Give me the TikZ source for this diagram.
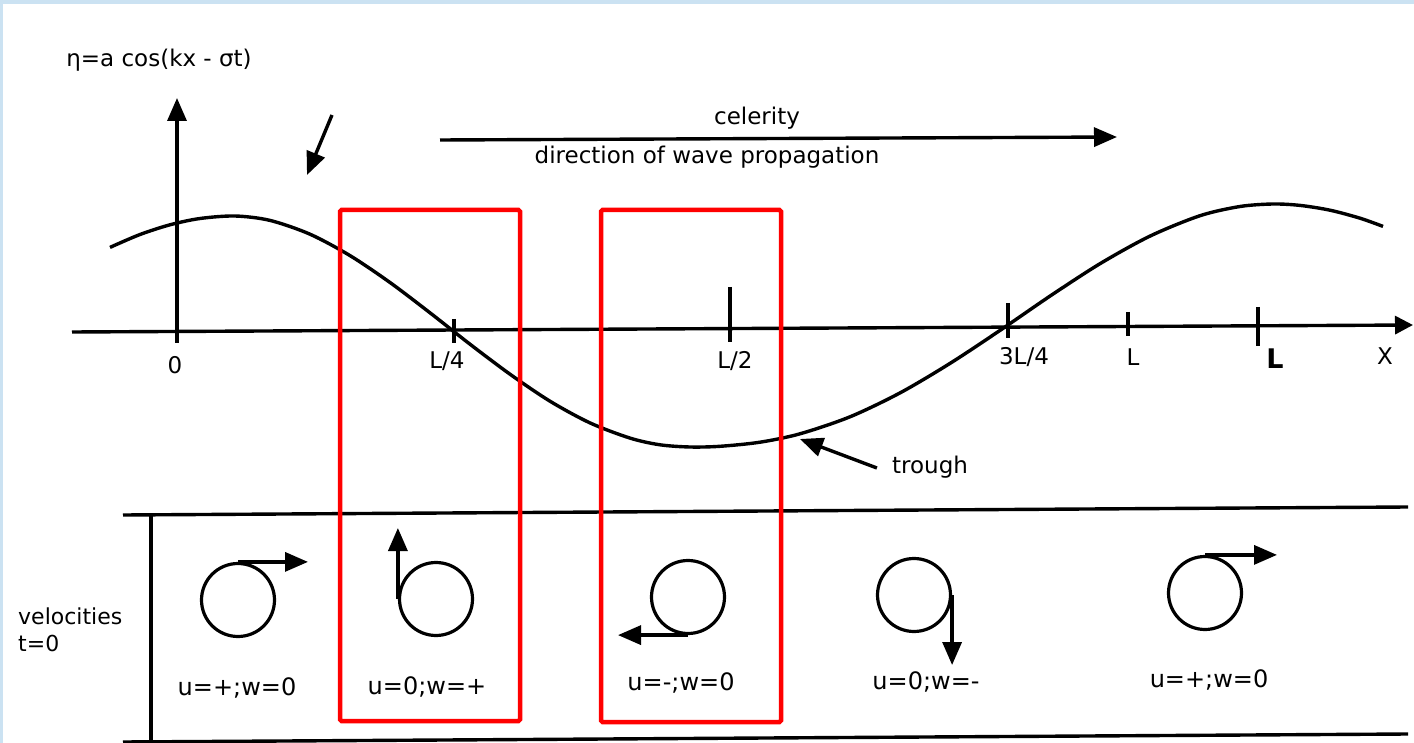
\documentclass[tikz,border=0pt]{standalone}
\usepackage{fontspec}
\setmainfont{DejaVu Sans}
\usetikzlibrary{arrows.meta,calc}
\definecolor{frameblue}{RGB}{203,226,242}
\begin{document}
\begin{tikzpicture}[x=1pt,y=-1pt,
  line/.style={line width=3.4pt},
  tip/.style={-{Triangle[length=23pt,width=19pt]}},
  axtip/.style={-{Triangle[length=18pt,width=18pt]}},
  lbl/.style={font=\fontsize{23}{27}\selectfont, inner sep=0pt},
  orbit/.style={circle, draw, line width=3.2pt, minimum size=73pt, inner sep=0pt},
  redbox/.style={draw=red, line width=4.5pt, rounded corners=1.5pt},
]
\useasboundingbox (0,0) rectangle (1414,743);
\fill[white] (0,0) rectangle (1414,743);
\fill[frameblue] (0,0) rectangle (1414,4);
\fill[frameblue] (0,0) rectangle (3,743);

% formula and top arrows
\node[lbl] (eq) at (159,60) {η=a cos(kx - σt)};
\coordinate (sa) at (332,115);
\coordinate (sb) at (307,175);
\draw[line,tip] (sa) -- (sb);
\coordinate (c0) at (440,140);
\coordinate (c1) at (1117,137);
\draw[line,tip] (c0) -- (c1);
\node[lbl] (cel) at (757,118) {celerity};
\node[lbl] (dir) at (707,157) {direction of wave propagation};

% axes
\coordinate (ax0) at (72,332);
\coordinate (ax1) at (1413,325);
\draw[line,axtip] (ax0) -- (ax1);
\coordinate (ay0) at (177,343);
\coordinate (ay1) at (177,98);
\draw[line,tip] (ay0) -- (ay1);

% ticks
\coordinate (t1a) at (454,319); \coordinate (t1b) at (454,343);
\coordinate (t2a) at (730,287); \coordinate (t2b) at (730,342);
\coordinate (t3a) at (1008,303); \coordinate (t3b) at (1008,338);
\coordinate (t4a) at (1128,312); \coordinate (t4b) at (1128,336);
\coordinate (t5a) at (1258,307); \coordinate (t5b) at (1258,346);
\draw[line] (t1a) -- (t1b);
\draw[line] (t2a) -- (t2b);
\draw[line] (t3a) -- (t3b);
\draw[line] (t4a) -- (t4b);
\draw[line] (t5a) -- (t5b);

\node[lbl] (l0) at (175,365) {0};
\node[lbl] (l1) at (447,361) {L/4};
\node[lbl] (l2) at (735,361) {L/2};
\node[lbl] (l3) at (1024,357) {3L/4};
\node[lbl] (l4) at (1133,357) {L};
\node[lbl,font=\fontsize{27}{30}\selectfont\bfseries] (l5) at (1275,359) {L};
\node[lbl] (lx) at (1385,356) {X};

% wave
\draw[line] plot[smooth, tension=0.5] coordinates {
  (110,247.4) (140,234.5) (170,224.8) (200,218.5) (235,216)
  (270,220.4) (310,234.2) (350,255.6) (390,282.5) (430,312.8) (470,344.2)
  (510,374.2) (550,401.2) (590,422.9) (630,438.1) (660,444.8) (690,447)
  (720,446.3) (760,442.2) (800,433.8) (850,416.8) (900,392.9) (950,363.4)
  (1000,330.4) (1050,296.1) (1100,263.7) (1150,236.1) (1200,215.7) (1240,206.5)
  (1273,204) (1300,205.4) (1330,210.2) (1360,218.2) (1383,226.4)};

% trough
\node[lbl] (tr) at (930,467) {trough};
\coordinate (trpt) at (800,439);
\draw[line,tip] ($(tr.west)+(-15,1)$) -- (trpt);

% lower panel
\coordinate (p1) at (123,515); \coordinate (p2) at (1408,507);
\coordinate (p3) at (123,742); \coordinate (p4) at (1408,734);
\coordinate (p5) at (151,515); \coordinate (p6) at (151,742);
\draw[line] (p1) -- (p2);
\draw[line] (p3) -- (p4);
\draw[line] (p5) -- (p6);

\node[lbl, align=left, anchor=west, font=\fontsize{22}{27}\selectfont] (vel) at (18,630) {velocities\\t=0};

% orbits
\node[orbit] (o1) at (238,600) {};
\node[orbit] (o2) at (436,599) {};
\node[orbit] (o3) at (688,597) {};
\node[orbit] (o4) at (914,595) {};
\node[orbit] (o5) at (1205,593) {};
\draw[line,tip] (o1.north) -- ($(o1.north)+(70,0)$);
\draw[line,tip] (o2.west) -- ($(o2.west)+(0,-71)$);
\draw[line,tip] (o3.south) -- ($(o3.south)+(-70,0)$);
\draw[line,tip] (o4.east) -- ($(o4.east)+(0,70)$);
\draw[line,tip] (o5.north) -- ($(o5.north)+(72,0)$);

\node[lbl,font=\fontsize{24}{28}\selectfont] (u1) at (237,688) {u=+;w=0};
\node[lbl,font=\fontsize{24}{28}\selectfont] (u2) at (427,687) {u=0;w=+};
\node[lbl,font=\fontsize{24}{28}\selectfont] (u3) at (681,683) {u=-;w=0};
\node[lbl,font=\fontsize{24}{28}\selectfont] (u4) at (926,682) {u=0;w=-};
\node[lbl,font=\fontsize{24}{28}\selectfont] (u5) at (1209,680) {u=+;w=0};

% red boxes
\draw[redbox] (340,210) rectangle (520,721);
\draw[redbox] (601,210) rectangle (781,722);
\end{tikzpicture}
\end{document}
